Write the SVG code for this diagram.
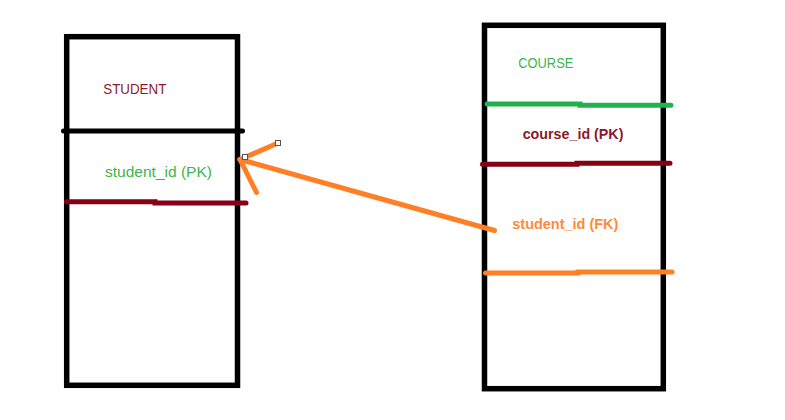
<svg xmlns="http://www.w3.org/2000/svg" width="785" height="420" viewBox="0 0 785 420">
<style>
.box{fill:none;stroke:#000;stroke-width:5.5}
.ln{fill:none;stroke-width:5;stroke-linecap:round}
.blk{stroke:#000}
.red{stroke:#880015}
.grn{stroke:#22B14C}
.org{stroke:#FF7F27}
.t{font-family:"Liberation Sans",Arial,sans-serif;font-size:15px}
.b{font-weight:bold}
.handle{fill:#fff;stroke:#555;stroke-width:1}
</style>
<rect width="785" height="420" fill="#fff"/>
<g id="student">
<rect class="box" x="66.7" y="36.7" width="170.8" height="348.6"/>
<line class="ln blk" x1="63.5" y1="131" x2="242.5" y2="131"/>
<path class="ln red" d="M66.5 201.8 L155 201.8 L155 203 L246 203"/>
<text class="t" x="103.3" y="94" fill="#8B1A2B" textLength="63" lengthAdjust="spacingAndGlyphs">STUDENT</text>
<text class="t" x="105" y="176.5" fill="#3DB54A" textLength="107" lengthAdjust="spacingAndGlyphs">student_id (PK)</text>
</g>
<g id="course">
<rect class="box" x="484.5" y="25.3" width="178.8" height="363.4"/>
<path class="ln grn" d="M487 104 L580 104 L580 105.2 L671 105.2"/>
<path class="ln red" d="M482.5 164.3 L577 164.3 L577 163.3 L670 163.3"/>
<path class="ln org" d="M485.5 273 L578 273 L578 272 L672 272"/>
<text class="t" x="518.3" y="68.3" fill="#3DB54A" textLength="55" lengthAdjust="spacingAndGlyphs">COURSE</text>
<text class="t b" x="522.7" y="139.3" fill="#8B1A2B" textLength="100.7" lengthAdjust="spacingAndGlyphs">course_id (PK)</text>
<text class="t b" x="512.3" y="229.3" fill="#FF8A3D" textLength="106" lengthAdjust="spacingAndGlyphs">student_id (FK)</text>
</g>
<g id="connectors">
<line class="ln org" x1="494.5" y1="230.5" x2="240" y2="159.5"/>
<line class="ln org" x1="240" y1="159.5" x2="278" y2="143"/>
<line class="ln org" x1="240" y1="159.5" x2="256.5" y2="192.5"/>
<rect class="handle" x="242.5" y="154.5" width="5" height="5"/>
<rect class="handle" x="275.5" y="140.5" width="5" height="5"/>
</g>
</svg>
